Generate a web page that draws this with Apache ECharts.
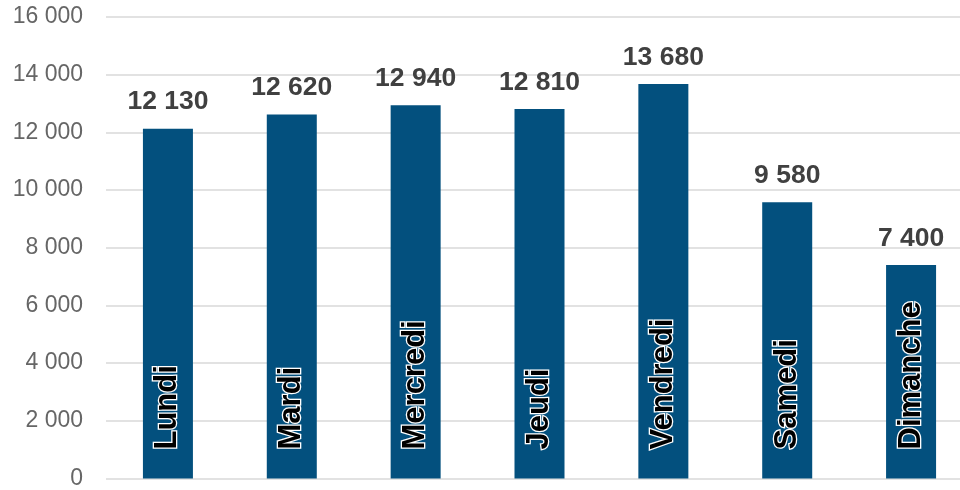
<!DOCTYPE html>
<html>
<head>
<meta charset="utf-8">
<script src="https://cdn.jsdelivr.net/npm/echarts@6/dist/echarts.min.js"></script>
<style>
  html, body { margin: 0; padding: 0; background: #fff; overflow: hidden; width: 960px; height: 490px; }
  /* le graphique déborde légèrement à droite, coupé par la fenêtre */
  #chart { width: 973px; height: 490px; }
</style>
</head>
<body>
<div id="chart"></div>
<script>
// Jours de la semaine et valeurs associées
const days = ['Lundi', 'Mardi', 'Mercredi', 'Jeudi', 'Vendredi', 'Samedi', 'Dimanche'];
const values = [12130, 12620, 12940, 12810, 13680, 9580, 7400];
const yTicks = [0, 2000, 4000, 6000, 8000, 10000, 12000, 14000, 16000];

// Séparateur de milliers : espace
function fmt(v) {
  return String(v).replace(/\B(?=(\d{3})+(?!\d))/g, ' ');
}

const chart = echarts.init(document.getElementById('chart'));
chart.setOption({
  animation: false,
  grid: { left: 106, right: 0, top: 17, bottom: 11, containLabel: false },
  xAxis: {
    type: 'category',
    data: days,
    axisLine: { show: false },
    axisTick: { show: false },
    axisLabel: { show: false }
  },
  yAxis: {
    type: 'value',
    min: yTicks[0],
    max: yTicks[yTicks.length - 1],
    interval: 2000,
    axisLine: { show: false },
    axisTick: { show: false },
    axisLabel: {
      margin: 23,
      color: '#666666',
      fontFamily: 'Liberation Sans',
      fontSize: 23,
      formatter: v => fmt(v)
    },
    splitLine: { lineStyle: { color: '#d9d9d9', width: 1.5 } }
  },
  series: [
    {
      type: 'bar',
      data: values,
      barWidth: 50,
      itemStyle: { color: '#03507e' },
      label: {
        show: true,
        position: 'top',
        distance: 13,
        color: '#404040',
        fontFamily: 'Liberation Sans',
        fontWeight: 'bold',
        fontSize: 26.5,
        formatter: p => fmt(p.value)
      }
    },
    {
      // couche transparente portant le nom du jour, écrit verticalement dans la barre
      type: 'bar',
      data: values,
      barWidth: 50,
      barGap: '-100%',
      itemStyle: { color: 'rgba(0,0,0,0)' },
      silent: true,
      label: {
        show: true,
        position: 'insideBottom',
        rotate: 90,
        align: 'left',
        verticalAlign: 'middle',
        distance: 29,
        color: '#000000',
        textBorderColor: '#ffffff',
        textBorderWidth: 2.5,
        fontFamily: 'Liberation Sans',
        fontWeight: 'bold',
        fontSize: 31,
        formatter: p => p.name
      }
    }
  ]
});
</script>
</body>
</html>
